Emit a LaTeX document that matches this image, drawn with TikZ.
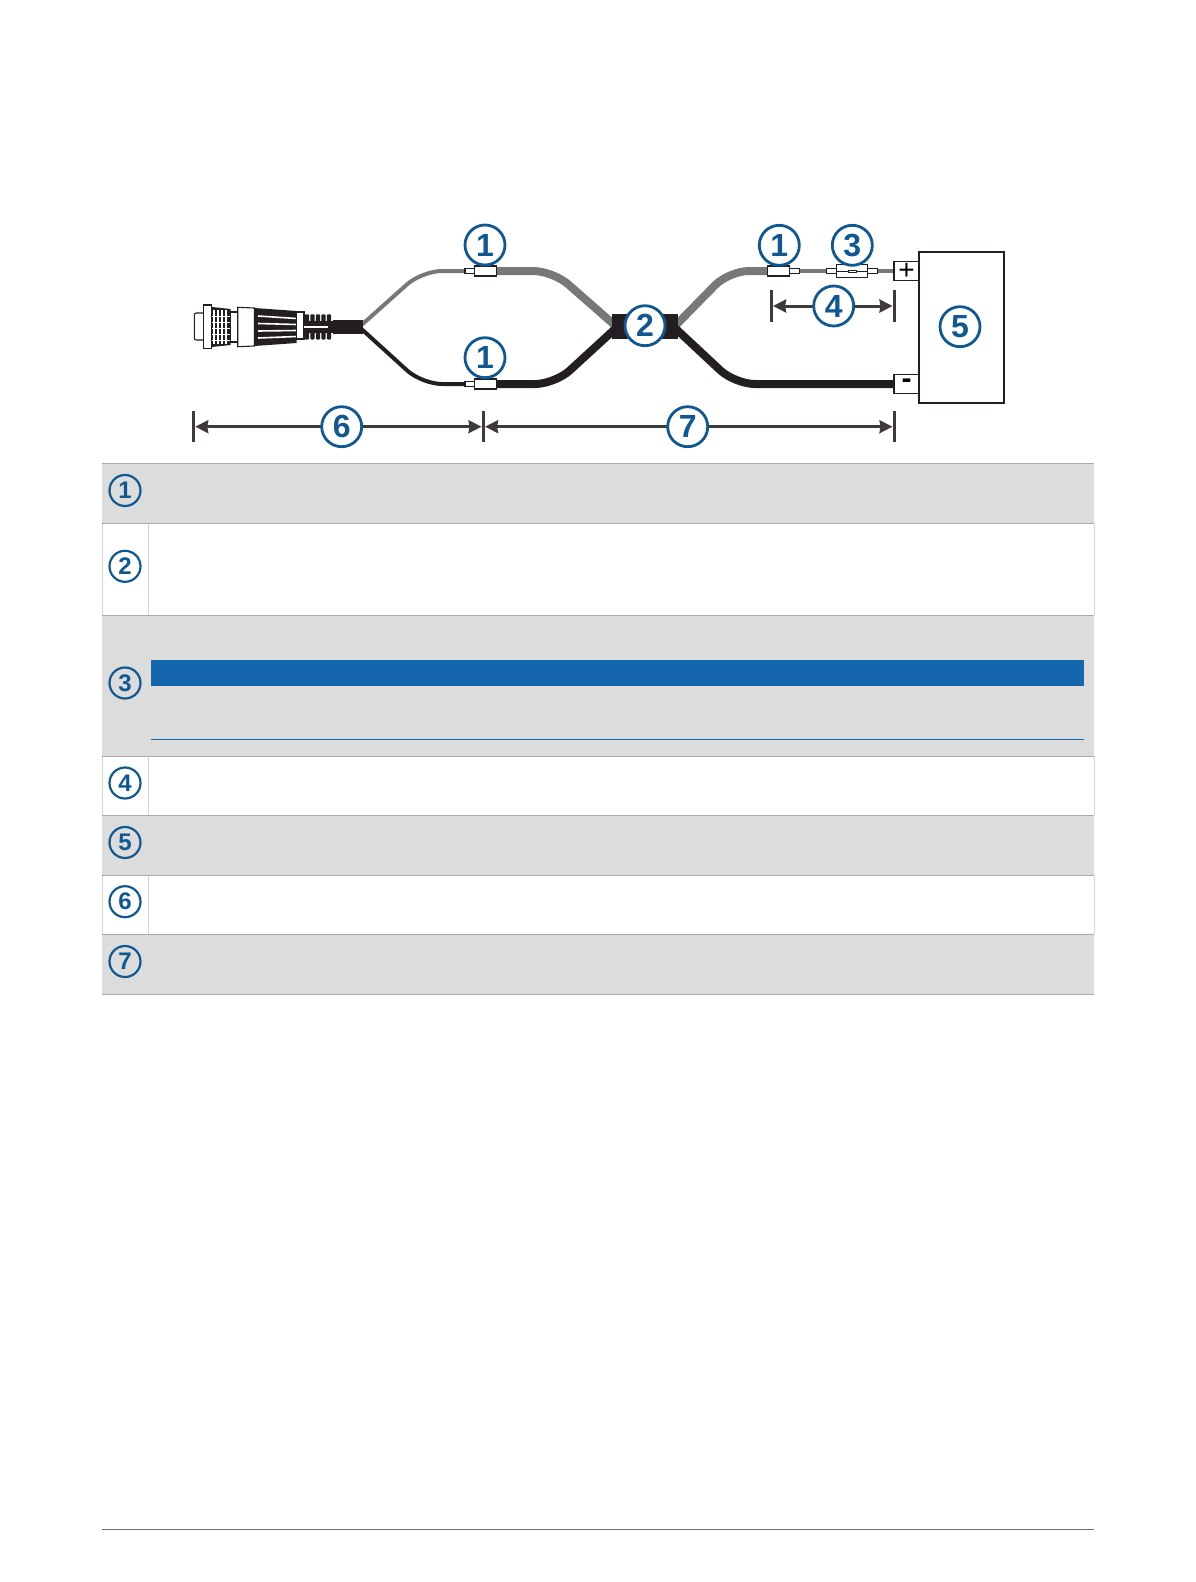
\documentclass[tikz,border=0pt]{standalone}
\usepackage{fontspec}
\setmainfont{Liberation Sans}
\usetikzlibrary{arrows.meta, backgrounds}
\definecolor{calloutblue}{RGB}{15,88,145}
\definecolor{noteblue}{RGB}{20,103,172}
\definecolor{rowgrey}{RGB}{220,220,220}
\definecolor{ruleline}{RGB}{170,170,170}
\definecolor{cellline}{RGB}{212,212,212}
\definecolor{wiregrey}{RGB}{120,120,120}
\definecolor{wireblack}{RGB}{35,31,32}
\definecolor{dimgrey}{RGB}{62,58,57}
\tikzset{
    callout/.style={circle, draw=calloutblue, fill=white, text=calloutblue, line width=2.8pt, minimum size=40pt, inner sep=0pt, font=\fontsize{32}{32}\selectfont\bfseries},
    rowcallout/.style={callout, fill=none, line width=2.2pt, minimum size=31pt, font=\fontsize{24}{24}\selectfont\bfseries},
    pin/.style={draw=wireblack, fill=white, line width=1.1pt, inner sep=0pt, outer sep=0pt},
    battpin/.style={draw=wireblack, fill=white, line width=1.8pt, inner sep=0pt, outer sep=0pt, minimum width=25pt, minimum height=19pt, font=\fontsize{28}{28}\selectfont},
    block/.style={fill=wireblack, inner sep=0pt, outer sep=0pt},
    dimtick/.style={fill=dimgrey, inner sep=0pt, outer sep=0pt, minimum width=2.6pt, minimum height=31pt},
    dimline/.style={draw=dimgrey, line width=2.5pt, <->, >={Stealth[length=13pt, width=13pt, inset=1pt]}, shorten >=0.5pt, shorten <=0.5pt},
    thinwire/.style={draw=wiregrey, line width=3.5pt},
    greywire/.style={draw=wiregrey, line width=8pt, rounded corners=20pt},
    blackwire/.style={draw=wireblack, line width=8pt, rounded corners=20pt}
}
\begin{document}
\begin{tikzpicture}[x=1pt, y=-1pt]
    \useasboundingbox (0,0) rectangle (1196,1582);

    % Table rows
    \foreach \ya/\yb in {463.3/523.3, 615.3/756.3, 815.3/875.3, 934.3/994}
        \fill[rowgrey] (102.3,\ya) rectangle (1094.3,\yb);
    \foreach \ya/\yb in {523.3/615.3, 756.3/815.3, 875.3/934.3} {
        \draw[cellline, line width=0.8pt] (102.3,\ya) -- (102.3,\yb);
        \draw[cellline, line width=0.8pt] (1094.3,\ya) -- (1094.3,\yb);
        \draw[cellline, line width=0.8pt] (148.7,\ya) -- (148.7,\yb);
    }
    \foreach \yy in {463.3, 523.3, 615.3, 756.3, 815.3, 875.3, 934.3, 994}
        \draw[ruleline, line width=1pt] (102.3,\yy) -- (1094.3,\yy);
    \fill[noteblue] (151,660) rectangle (1084,685.7);
    \draw[noteblue, line width=0.8pt] (151,739.3) -- (1084,739.3);
    \draw[black!58, line width=1pt] (102,1529.5) -- (1094,1529.5);

    % Table callouts
    \foreach \n/\yy in {1/490.5, 2/566.3, 3/683, 4/783, 5/842.5, 6/901.7, 7/961.5}
        \node[rowcallout] (row\n) at (125,\yy) {\n};

    % Plug
    \draw[wireblack, fill=white, line width=1.1pt, rounded corners=2pt] (203.3,313) -- (194.3,313) -- (194.3,340) -- (203.3,340);
    \fill[wireblack] (211.7,307) -- (230.7,309) -- (230.7,345) -- (211.7,347) -- cycle;
    \foreach \xx in {214, 218, 222, 226}
        \draw[white, line width=1.2pt] (\xx,310) -- (\xx,344);
    \foreach \yy in {316, 322, 328, 334, 340}
        \draw[white, line width=1pt] (212,\yy) -- (230,\yy);
    \draw[wireblack, fill=white, line width=1.1pt] (203.3,305) rectangle (211.7,348.3);
    \draw[wireblack, fill=white, line width=1.1pt] (230.7,312) rectangle (237.7,342);
    \draw[wireblack, fill=white, line width=1.1pt] (237.7,307.3) -- (254.3,308) -- (254.3,346) -- (237.7,346.7) -- cycle;
    \fill[wireblack] (254.3,308) -- (296.7,311) -- (296.7,343) -- (254.3,346) -- cycle;
    \foreach \ya/\yb in {316/318.5, 323.5/324.5, 331/330.5, 338/336.5}
        \draw[white, line width=1.6pt] (258,\ya) -- (296.7,\yb);
    \draw[wireblack, fill=white, line width=1.1pt] (296.7,312) rectangle (304,339);
    \foreach \xx in {307, 312.5, 318, 323.5, 329}
        \fill[wireblack, rounded corners=1pt] (\xx-2.2,314.3) rectangle (\xx+2.2,339.5);
    \fill[wireblack] (304,321) rectangle (332.7,333);
    \draw[white, line width=1.2pt] (304,327) -- (328,327);

    % Cable blocks
    \node[block, minimum width=30.6pt, minimum height=14pt] (cable) at (348,327) {};
    \node[block, minimum width=66.6pt, minimum height=25pt] (hub) at (645,326.8) {};

    % Terminals and fuse
    \node[pin, minimum width=22pt, minimum height=10pt] (upperbig) at (485.7,271) {};
    \node[pin, minimum width=9.7pt, minimum height=5pt, anchor=east] (uppersmall) at (upperbig.west) {};
    \node[pin, minimum width=22pt, minimum height=10pt] (lowerbig) at (485.7,384) {};
    \node[pin, minimum width=9.7pt, minimum height=5pt, anchor=east] (lowersmall) at (lowerbig.west) {};
    \node[pin, minimum width=22pt, minimum height=10pt] (rightbig) at (778.3,271) {};
    \node[pin, minimum width=10pt, minimum height=5pt, anchor=west] (rightsmall) at (rightbig.east) {};
    \node[pin, minimum width=31pt, minimum height=13.4pt] (fuse) at (852.2,271) {};
    \node[pin, minimum width=10pt, minimum height=5pt, anchor=east] (fuseleft) at (fuse.west) {};
    \node[pin, minimum width=10pt, minimum height=5pt, anchor=west] (fuseright) at (fuse.east) {};
    \draw[wireblack, line width=0.9pt] (fuse.west) -- (fuse.east);
    \node[pin, line width=0.8pt, minimum width=8pt, minimum height=2.5pt] (fusecap) at (852.2,271.5) {};

    % Battery
    \node[draw=wireblack, line width=1.8pt, minimum width=85pt, minimum height=150.7pt, inner sep=0pt, outer sep=0pt] (battery) at (961.5,327.4) {};
    \node[battpin] (plus) at (906.5,271) {\raisebox{-1.5pt}{+}};
    \node[battpin, font=\fontsize{30}{30}\selectfont\bfseries] (minus) at (906.5,384) {\raisebox{-3pt}{-}};

    % Wires
    \begin{scope}[on background layer]
        \draw[greywire, line width=4pt] ([xshift=-4pt]cable.east) -- (422,271) -- (uppersmall.west);
        \draw[blackwire, line width=4pt] ([xshift=-4pt]cable.east) -- (422,384) -- (lowersmall.west);
        \draw[greywire] (upperbig.east) -- (553,271) -- ([xshift=6.3pt, yshift=-1.2pt]hub.west);
        \draw[blackwire] (lowerbig.east) -- (555,384) -- ([xshift=6pt, yshift=0.3pt]hub.west);
        \draw[greywire] ([xshift=-6pt, yshift=-2pt]hub.east) -- (729,271) -- (rightbig.west);
        \draw[blackwire] ([xshift=-6pt, yshift=1.3pt]hub.east) -- (735,384) -- (minus.west);
        \draw[thinwire] (rightsmall.east) -- (fuseleft.west);
        \draw[thinwire] (fuseright.east) -- (plus.west);
    \end{scope}

    % Dimensions
    \node[dimtick] (lenA) at (193.5,426.7) {};
    \node[dimtick] (lenB) at (483.3,426.7) {};
    \node[dimtick] (lenC) at (894.3,426.7) {};
    \node[dimtick, minimum height=32pt] (fuseA) at (771.3,306) {};
    \node[dimtick, minimum height=32pt] (fuseB) at (894.3,306) {};
    \draw[dimline] (lenA) -- (lenB);
    \draw[dimline] (lenB) -- (lenC);
    \draw[dimline, line width=3pt] (fuseA) -- (fuseB);

    % Callouts
    \node[callout] (callupper) at (485,245) {1};
    \node[callout] (calllower) at (485,357.7) {1};
    \node[callout] (callright) at (779.3,245.3) {1};
    \node[callout] (callhub) at (645,325.7) {2};
    \node[callout] (callfuse) at (852.3,245.3) {3};
    \node[callout] (calllen) at (833.7,306) {4};
    \node[callout] (callbatt) at (960,326.7) {5};
    \node[callout] (callA) at (341.7,426.7) {6};
    \node[callout] (callB) at (687.7,426.7) {7};
\end{tikzpicture}
\end{document}
